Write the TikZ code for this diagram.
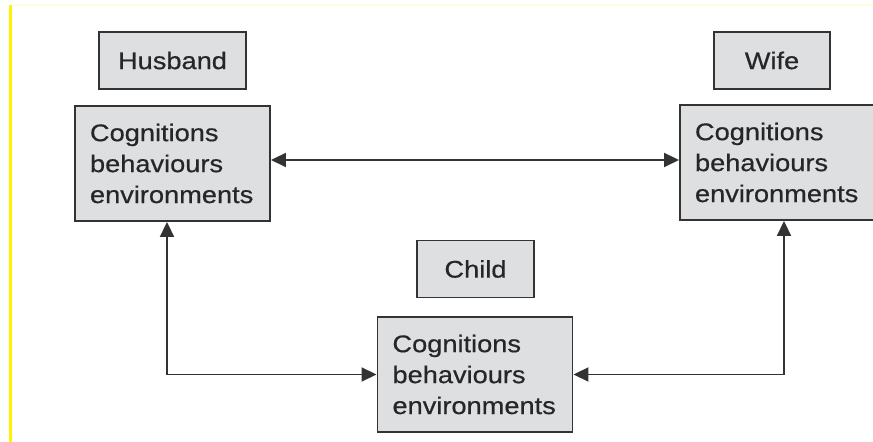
\documentclass[tikz,border=0pt]{standalone}
\usepackage{fontspec}
\setmainfont[FakeStretch=1.13,FakeBold=0.5]{Liberation Sans}
\usetikzlibrary{arrows.meta}
\definecolor{boxfill}{HTML}{DEDFE1}
\definecolor{line}{HTML}{333333}
\definecolor{ink}{HTML}{262626}
\tikzset{
  lbl/.style={draw=line,fill=boxfill,line width=1.1pt,text=ink,minimum height=1.14cm,inner sep=0pt},
  blk/.style={draw=line,fill=boxfill,line width=1.1pt,text=ink,minimum width=3.9cm,minimum height=2.3cm,
    text width=3.3cm,inner xsep=0.3cm,inner ysep=0pt,align=left},
  link/.style={draw=line,line width=1.1pt,{Triangle[length=0.3cm,width=0.28cm]}-{Triangle[length=0.3cm,width=0.28cm]}}
}
\begin{document}
\begin{tikzpicture}[font=\fontsize{13.7pt}{17.6pt}\selectfont]
\useasboundingbox (0,0) rectangle (17.46,8.84);
\draw[yellow,line width=0.07cm] (0.21,0) -- (0.21,8.74);
\draw[yellow!12,line width=0.04cm] (0.24,8.74) -- (17.46,8.74);
\node[lbl,minimum width=2.94cm] (v1) at (3.45,7.63) {Husband};
\node[blk] (v2) at (3.45,5.57) {Cognitions\\behaviours\\environments};
\node[lbl,minimum width=2.32cm] (v3) at (15.44,7.63) {Wife};
\node[blk] (v4) at (15.55,5.59) {Cognitions\\behaviours\\environments};
\node[lbl,minimum width=2.34cm] (v5) at (9.51,3.46) {Child};
\node[blk] (v6) at (9.5,1.35) {Cognitions\\behaviours\\environments};
\draw[link] ([yshift=0.07cm]v2.east) -- ([yshift=0.07cm]v2.east -| v4.west);
\draw[link] ([xshift=-0.11cm]v2.south) |- (v6.west);
\draw[link] ([xshift=0.13cm]v4.south) |- (v6.east);
\end{tikzpicture}
\end{document}
